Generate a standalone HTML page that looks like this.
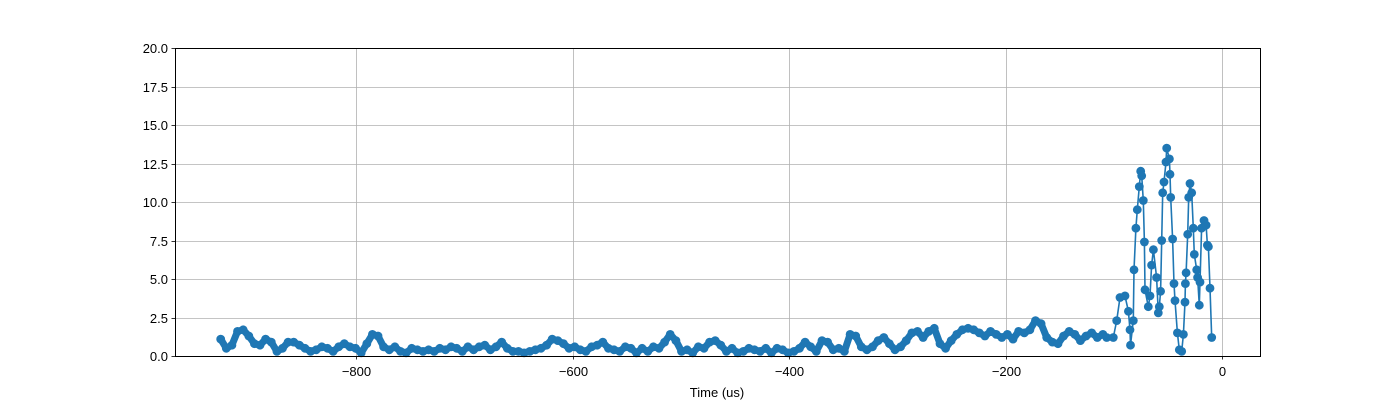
<!DOCTYPE html>
<html><head><meta charset="utf-8"><style>
html,body{margin:0;padding:0;background:#fff;}
svg{display:block;font-family:"Liberation Sans","DejaVu Sans",sans-serif;}
</style></head><body>
<svg id="chart" width="1400" height="400" viewBox="0 0 1400 400" xmlns="http://www.w3.org/2000/svg">
<rect x="0" y="0" width="1400" height="400" fill="#fff"/>
<g id="grid"></g>
<g id="series"></g>
<rect x="175.5" y="48.5" width="1085" height="308" fill="none" stroke="#000" stroke-width="1"/>
<g id="xticks"></g>
<g id="yticks"></g>
<text x="717" y="397" font-size="13" text-anchor="middle">Time (us)</text>
</svg>
<script>
const xTicks = [-800, -600, -400, -200, 0];
const yTicks = [0, 2.5, 5, 7.5, 10, 12.5, 15, 17.5, 20];
const yTickLabels = ["0.0","2.5","5.0","7.5","10.0","12.5","15.0","17.5","20.0"];
const baseStart = -925;
const baseEnd = -110;
const baseValues = [1.1,0.5,0.7,1.6,1.7,1.3,0.8,0.7,1.1,0.9,0.3,0.5,0.9,0.9,0.7,0.5,0.3,0.4,0.6,0.5,0.3,0.6,0.8,0.6,0.5,0.2,0.8,1.4,1.3,0.6,0.4,0.6,0.3,0.2,0.5,0.4,0.3,0.4,0.3,0.5,0.4,0.6,0.5,0.3,0.6,0.4,0.6,0.7,0.4,0.6,0.9,0.5,0.3,0.3,0.2,0.3,0.4,0.5,0.7,1.1,1.0,0.8,0.5,0.6,0.4,0.3,0.6,0.7,0.9,0.5,0.4,0.3,0.6,0.5,0.2,0.5,0.3,0.6,0.5,0.9,1.4,1.0,0.3,0.4,0.2,0.6,0.5,0.9,1.0,0.7,0.3,0.5,0.2,0.3,0.5,0.4,0.3,0.5,0.2,0.5,0.4,0.2,0.3,0.5,0.9,0.6,0.3,1.0,0.9,0.4,0.5,0.3,1.4,1.3,0.6,0.4,0.6,1.0,1.2,0.8,0.4,0.6,1.0,1.5,1.6,1.2,1.6,1.8,0.8,0.5,1.0,1.4,1.7,1.8,1.7,1.5,1.3,1.6,1.4,1.2,1.4,1.1,1.6,1.5,1.7,2.3,2.1,1.2,0.9,0.8,1.3,1.6,1.4,1.0,1.3,1.5,1.2,1.4];
const spikeTimes = [-106.5,-100.4,-97.3,-94.2,-89.6,-86.5,-85,-84.5,-81.9,-81.3,-79.5,-78.2,-76.4,-75.1,-74.2,-72.7,-71.7,-71.1,-68.1,-66.5,-65,-63.4,-60.4,-58.8,-57.9,-56.7,-55.7,-54.8,-53.6,-51.7,-51.1,-48.6,-48,-47.4,-45.6,-44.3,-43.4,-41.2,-39.4,-37.2,-35.7,-34.2,-33.8,-33.2,-31.7,-30.8,-29.6,-28,-26.5,-25.6,-23.4,-22.5,-21,-20.3,-18.8,-16.6,-14.7,-13.5,-12.6,-11.1,-9.5];
const spikeValues = [1.2,1.2,2.3,3.8,3.9,2.9,1.7,0.7,2.3,5.6,8.3,9.5,11.0,12.0,11.7,10.1,7.4,4.3,3.2,3.9,5.9,6.9,5.1,2.8,3.2,4.2,7.5,10.6,11.3,12.6,13.5,12.8,11.8,10.3,7.6,4.7,3.6,1.5,0.4,0.3,1.4,3.5,4.7,5.4,7.9,10.3,11.2,10.6,8.3,6.6,5.6,5.1,3.3,4.8,8.3,8.8,8.5,7.2,7.1,4.4,1.2,8.3];

const NS = "http://www.w3.org/2000/svg";
const X0 = 175, X1 = 1260, Y0 = 356, Y1 = 48;
function xs(t){ return 1222 + t * 1.0825; }
function ys(v){ return Y0 - (v / 20) * (Y0 - Y1); }
function mk(tag, attrs, parent){ const e = document.createElementNS(NS, tag); for (const k in attrs) e.setAttribute(k, attrs[k]); parent.appendChild(e); return e; }

const grid = document.getElementById('grid');
const xg = document.getElementById('xticks');
const yg = document.getElementById('yticks');
xTicks.forEach(t => {
  const x = Math.round(xs(t)) + 0.5;
  const gl = mk('line', {x1:x, x2:x, y1:Y1, y2:Y0, stroke:'#b0b0b0', 'stroke-width':0.8}, grid);
  
  
  const tk = mk('line', {x1:x, x2:x, y1:Y0, y2:Y0 + 3.5, stroke:'#000', 'stroke-width':0.8}, xg);
  
  
  const lb = mk('text', {x:x, y:376, 'font-size':13, 'text-anchor':'middle'}, xg);
  lb.textContent = t < 0 ? '\u2212' + Math.abs(t) : String(t);
  
  
});
yTicks.forEach((v, i) => {
  const y = Math.round(ys(v)) + 0.5;
  const gl = mk('line', {x1:X0, x2:X1, y1:y, y2:y, stroke:'#b0b0b0', 'stroke-width':0.8}, grid);
  
  
  const tk = mk('line', {x1:X0 - 3.5, x2:X0, y1:y, y2:y, stroke:'#000', 'stroke-width':0.8}, yg);
  
  
  const lb = mk('text', {x:X0 - 7, y:y + 4.5, 'font-size':13, 'text-anchor':'end'}, yg);
  lb.textContent = yTickLabels[i];
  
  
});

const baseStep = (baseEnd - baseStart) / (baseValues.length - 1);
const basePts = baseValues.map((v, i) => [baseStart + i * baseStep, v]);
const spikePts = spikeTimes.map((t, i) => [t, spikeValues[i]]);
const sg = document.getElementById('series');
function ptsStr(arr){ return arr.map(p => xs(p[0]).toFixed(1) + ',' + ys(p[1]).toFixed(1)).join(' '); }
const bl = mk('polyline', {points: ptsStr(basePts), fill:'none', stroke:'#1f77b4', 'stroke-width':7, 'stroke-linejoin':'round', 'stroke-linecap':'round'}, sg);


const sl = mk('polyline', {points: ptsStr([basePts[basePts.length - 1]].concat(spikePts)), fill:'none', stroke:'#1f77b4', 'stroke-width':1.6, 'stroke-linejoin':'round'}, sg);


basePts.concat(spikePts).forEach(p => {
  const c = mk('circle', {cx:xs(p[0]).toFixed(1), cy:ys(p[1]).toFixed(1), r:4.4, fill:'#1f77b4'}, sg);
  
  
});
</script>
</body></html>
